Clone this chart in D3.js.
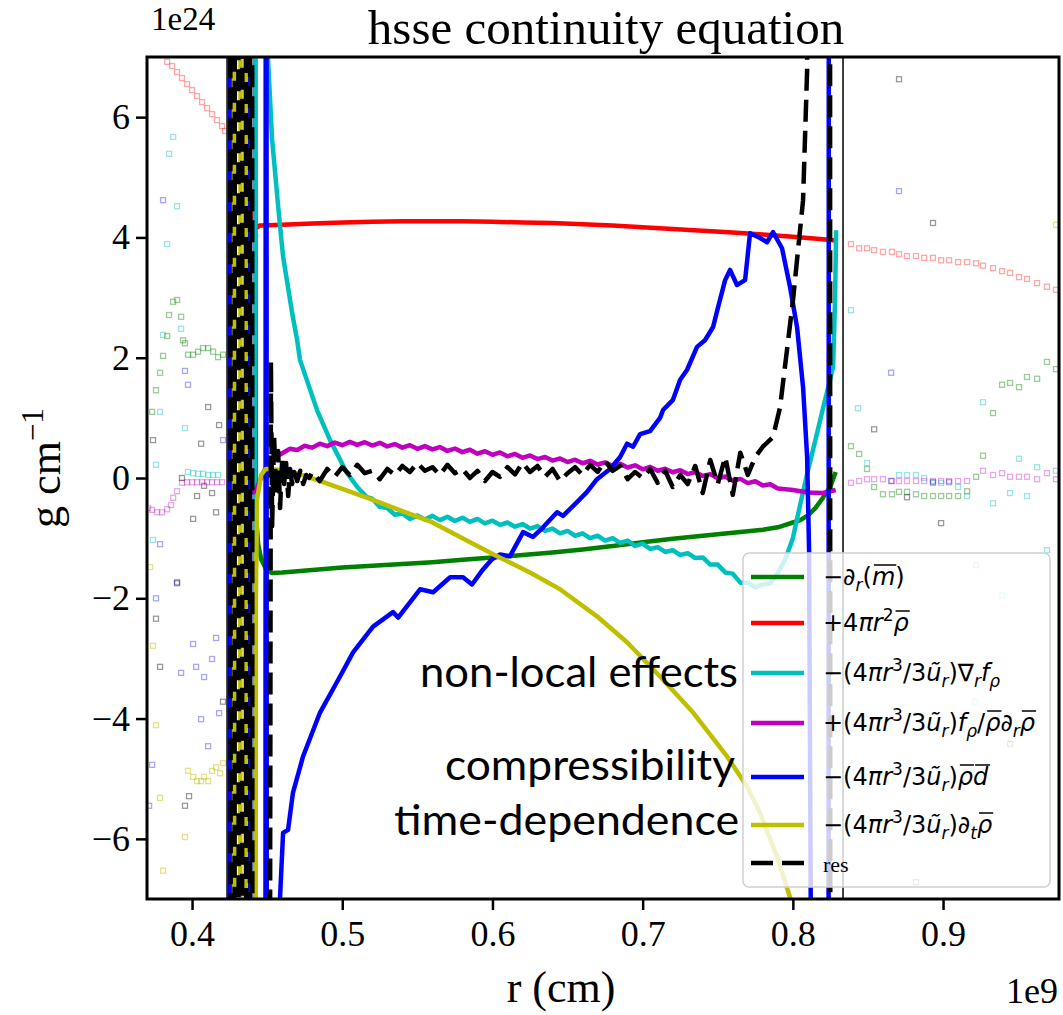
<!DOCTYPE html>
<html>
<head>
<meta charset="utf-8">
<script src="https://cdn.jsdelivr.net/npm/d3@7"></script>
<style>
  body { margin: 0; background: #fff; }
</style>
</head>
<body>
<svg id="chart" width="1063" height="1015"></svg>
<script>
// ---- data (r in units of 1e9 cm, values in units of 1e24 g/cm) ----
var xTicks = [0.4, 0.5, 0.6, 0.7, 0.8, 0.9];
var yTicks = [-6, -4, -2, 0, 2, 4, 6];
var convBounds = [0.4233, 0.8334];

var greenLine = [[0.4400,40],[0.4425,-0.6],[0.4440,-1.1],[0.4460,-1.35],[0.4490,-1.5],[0.4530,-1.58],[0.46,-1.57],[0.48,-1.53],[0.50,-1.49],[0.52,-1.46],[0.54,-1.43],[0.56,-1.40],[0.58,-1.36],[0.60,-1.32],[0.62,-1.28],[0.64,-1.24],[0.66,-1.19],[0.68,-1.13],[0.70,-1.07],[0.72,-1.01],[0.74,-0.96],[0.76,-0.91],[0.78,-0.86],[0.79,-0.82],[0.80,-0.74],[0.805,-0.70],[0.81,-0.62],[0.815,-0.50],[0.82,-0.33],[0.825,-0.14],[0.8285,0.1]];

var redLine = [[0.4405,4.45],[0.4425,4.15],[0.445,4.2],[0.46,4.21],[0.48,4.23],[0.50,4.25],[0.52,4.26],[0.54,4.27],[0.56,4.27],[0.58,4.27],[0.60,4.26],[0.62,4.25],[0.64,4.24],[0.66,4.22],[0.68,4.2],[0.70,4.17],[0.72,4.14],[0.74,4.11],[0.76,4.08],[0.78,4.05],[0.80,4.01],[0.82,3.97],[0.8285,3.95]];

var cyanLine = [[0.4410,-40],[0.4430,40],[0.4500,40],[0.4506,6.95],[0.4533,5.63],[0.4573,4.52],[0.4606,3.68],[0.4666,2.75],[0.4699,2.3],[0.4719,1.96],[0.4832,1.13],[0.4919,0.63],[0.5032,0.08],[0.5100,-0.15],[0.5165,-0.32],
  [0.52,-0.345],[0.525,-0.48],[0.53,-0.50],[0.535,-0.61],[0.54,-0.59],[0.545,-0.68],[0.55,-0.625],[0.555,-0.69],[0.56,-0.63],[0.565,-0.70],[0.57,-0.645],[0.575,-0.715],[0.58,-0.66],[0.585,-0.73],[0.59,-0.68],[0.595,-0.755],[0.60,-0.71],[0.605,-0.78],[0.61,-0.74],[0.615,-0.81],[0.62,-0.765],[0.625,-0.84],[0.63,-0.80],[0.635,-0.88],[0.64,-0.84],[0.645,-0.92],[0.65,-0.88],[0.655,-0.96],[0.66,-0.92],[0.665,-1.00],[0.67,-0.96],[0.675,-1.04],[0.68,-1.00],[0.685,-1.08],[0.69,-1.04],[0.695,-1.13],[0.70,-1.09],[0.705,-1.18],[0.71,-1.15],[0.715,-1.23],[0.72,-1.20],[0.725,-1.28],[0.73,-1.25],[0.735,-1.33],[0.74,-1.32],[0.745,-1.44],[0.75,-1.44],[0.755,-1.57],[0.76,-1.59],[0.765,-1.74],[0.77,-1.74],[0.775,-1.82],[0.78,-1.77],
  [0.785,-1.75],[0.79,-1.58],[0.795,-1.35],[0.80,-1.0],[0.805,-0.43],[0.81,0.12],[0.815,0.63],[0.82,1.15],[0.825,1.66],[0.8268,1.85],[0.8281,2.96],[0.8288,4.12]];

var magentaLine = [[0.4390,-0.25],[0.4419,-0.23],[0.4450,-0.05],[0.4480,0.12],[0.4519,0.25],[0.4560,0.35],[0.4606,0.42],
  [0.465,0.485],[0.47,0.465],[0.475,0.535],[0.48,0.505],[0.485,0.57],[0.49,0.53],[0.495,0.59],[0.50,0.545],[0.505,0.60],[0.51,0.55],[0.515,0.595],[0.52,0.54],[0.525,0.585],[0.53,0.525],[0.535,0.565],[0.54,0.505],[0.545,0.545],[0.55,0.485],[0.555,0.53],[0.56,0.475],[0.565,0.515],[0.57,0.45],[0.575,0.49],[0.58,0.43],[0.585,0.47],[0.59,0.405],[0.595,0.445],[0.60,0.385],[0.605,0.425],[0.61,0.36],[0.615,0.40],[0.62,0.335],[0.625,0.375],[0.63,0.315],[0.635,0.35],[0.64,0.29],[0.645,0.325],[0.65,0.265],[0.655,0.305],[0.66,0.245],[0.665,0.285],[0.67,0.225],[0.675,0.26],[0.68,0.20],[0.685,0.235],[0.69,0.175],[0.695,0.21],[0.70,0.145],[0.705,0.185],[0.71,0.12],[0.715,0.155],[0.72,0.095],[0.725,0.13],[0.73,0.065],[0.735,0.10],[0.74,0.035],[0.745,0.065],[0.75,-0.005],[0.755,0.025],[0.76,-0.045],[0.765,-0.015],[0.77,-0.085],[0.775,-0.055],[0.78,-0.125],[0.785,-0.105],[0.79,-0.175],
  [0.80,-0.20],[0.81,-0.24],[0.82,-0.25],[0.8285,-0.2]];

var blueLine = [[0.4245,-40],[0.4258,40],[0.4380,40],[0.4392,-40],[0.4486,-40],[0.4493,40],[0.4500,-40],
  [0.4586,-6.97],[0.4606,-5.9],[0.4639,-5.85],[0.4672,-5.23],[0.4739,-4.63],[0.4852,-3.9],[0.4985,-3.3],[0.5072,-2.9],[0.5205,-2.47],[0.5338,-2.23],[0.5372,-2.32],[0.5518,-1.85],[0.5605,-1.9],[0.5718,-1.65],[0.5804,-1.65],[0.5864,-1.77],[0.5937,-1.52],[0.5997,-1.35],[0.6051,-1.27],[0.6117,-1.3],[0.6204,-0.9],[0.6270,-0.98],[0.6337,-0.82],[0.6430,-0.57],[0.6470,-0.63],[0.6563,-0.4],[0.6630,-0.23],[0.6696,-0.02],[0.6783,0.15],[0.6850,0.35],[0.6896,0.57],[0.6936,0.52],[0.6983,0.73],[0.7049,0.78],[0.7116,1.0],[0.7136,1.13],[0.7202,1.3],[0.7249,1.63],[0.7296,1.80],[0.7362,2.18],[0.7415,2.29],[0.7469,2.51],[0.7502,2.84],[0.7549,3.29],[0.7582,3.46],[0.7628,3.21],[0.7682,3.29],[0.7715,4.07],[0.7782,3.99],[0.7828,3.92],[0.7868,4.09],[0.7928,3.82],[0.7981,3.18],[0.8028,2.51],[0.8068,1.51],[0.8095,0.35],[0.8108,-1.2],[0.8120,-7.5],[0.8140,-40],[0.8235,-40],[0.8242,40]];

var yellowLine = [[0.4275,40],[0.4285,-40],[0.4318,-40],[0.4326,40],[0.4352,40],[0.4360,-40],[0.4412,-40],[0.4425,-2.0],[0.4433,-0.35],[0.4460,0.05],[0.4490,0.15],[0.4530,0.15],[0.4606,0.12],[0.4719,0.06],[0.4852,-0.05],[0.50,-0.18],[0.52,-0.36],[0.54,-0.55],[0.5585,-0.72],[0.5851,-1.07],[0.6031,-1.3],[0.6250,-1.57],[0.6450,-1.85],[0.6696,-2.3],[0.6896,-2.73],[0.7116,-3.3],[0.7336,-3.9],[0.7562,-4.63],[0.7695,-5.13],[0.7782,-5.57],[0.7895,-6.3],[0.7981,-6.97],[0.8100,-8.0]];

var resLine = [[0.4250,40],[0.4262,-40],[0.4280,-40],[0.4288,40],[0.4305,40],[0.4313,-40],[0.4330,-40],[0.4338,40],[0.4356,40],[0.4364,-40],[0.4382,-40],[0.4390,40],[0.4398,40],[0.4404,-40],
  [0.4500,-40],[0.4525,1.93],[0.4533,-0.8],[0.4546,0.7],[0.4560,-0.3],[0.4573,0.45],[0.4586,-0.5],[0.4600,0.3],[0.4613,-0.1],[0.4626,0.25],[0.4640,-0.3],[0.4653,0.15],[0.4666,-0.1],[0.4680,0.1],[0.4700,-0.05],[0.4720,0.12],[0.4740,-0.1],[0.4760,0.05],[0.4780,0.0],
  [0.480,0.10],[0.485,-0.05],[0.490,0.15],[0.495,0.02],[0.500,0.18],[0.505,0.05],[0.510,0.22],[0.515,0.08],[0.520,0.12],[0.525,-0.02],[0.530,0.15],[0.535,0.05],[0.540,0.20],[0.545,0.10],[0.550,0.25],[0.555,0.12],[0.560,0.18],[0.565,0.05],[0.570,0.22],[0.575,0.08],[0.580,0.15],[0.585,0.00],[0.590,0.12],[0.595,-0.05],[0.600,0.10],[0.605,0.02],[0.610,0.18],[0.615,0.06],[0.620,0.25],[0.625,0.10],[0.630,0.20],[0.635,0.02],[0.640,0.15],[0.645,-0.05],[0.650,0.08],[0.655,0.18],[0.660,0.05],[0.665,0.22],[0.670,0.10],[0.675,0.28],[0.680,0.12],[0.685,0.20],[0.690,-0.02],[0.695,0.10],[0.700,0.00],[0.705,0.15],[0.710,-0.08],[0.715,0.12],[0.720,-0.15],[0.725,0.05],[0.730,-0.10],[0.735,0.20],[0.740,-0.25],[0.745,0.30],[0.750,-0.10],[0.755,0.35],[0.760,-0.28],[0.765,0.42],
  [0.770,0.05],[0.775,0.35],[0.780,0.52],[0.7868,0.68],[0.7915,1.18],[0.7961,2.13],[0.8001,2.96],[0.8068,4.62],[0.8095,6.78],[0.8115,40],[0.8245,40],[0.8252,-40]];

// faint markers outside the convective zone
var redPts = [[0.3834,6.92],[0.3867,6.85],[0.3900,6.75],[0.3933,6.65],[0.3967,6.55],[0.4000,6.45],[0.4033,6.35],[0.4067,6.25],[0.4100,6.15],[0.4133,6.05],[0.4166,5.95],[0.4200,5.85],[0.4220,5.77],
  [0.8387,3.89],[0.8441,3.82],[0.8494,3.82],[0.8541,3.79],[0.8600,3.76],[0.8660,3.76],[0.8707,3.72],[0.8760,3.69],[0.8820,3.69],[0.8874,3.66],[0.8933,3.66],[0.8987,3.62],[0.9040,3.62],[0.9100,3.59],[0.9160,3.59],[0.9220,3.57],[0.9266,3.53],[0.9333,3.49],[0.9393,3.44],[0.9446,3.41],[0.9506,3.34],[0.9559,3.31],[0.9626,3.24],[0.9692,3.18],[0.9752,3.13]];
var greenPts = [[0.3874,2.93],[0.3900,2.96],[0.3847,2.71],[0.3927,2.68],[0.3834,2.36],[0.3940,2.29],[0.3953,2.24],[0.3807,2.03],[0.3973,2.05],[0.4007,2.05],[0.4040,2.10],[0.4073,2.16],[0.4107,2.16],[0.4140,2.10],[0.4173,2.01],[0.4206,2.05],[0.3787,1.75],[0.3760,1.46],[0.3734,1.10],
  [0.8387,0.53],[0.8441,0.40],[0.8494,0.15],[0.8541,-0.15],[0.8600,-0.27],[0.8660,-0.27],[0.8707,-0.23],[0.8760,-0.23],[0.8820,-0.27],[0.8874,-0.30],[0.8933,-0.30],[0.8987,-0.30],[0.9040,-0.30],[0.9100,-0.30],[0.9160,-0.22],[0.9220,0.02],[0.9266,0.37],[0.9333,1.08],[0.9393,1.55],[0.9446,1.58],[0.9506,1.51],[0.9559,1.68],[0.9626,1.65],[0.9692,1.93],[0.9752,1.81]];
var cyanPts = [[0.3874,5.67],[0.3847,5.39],[0.3900,4.52],[0.3834,3.89],[0.3927,2.48],[0.3807,2.38],[0.3787,1.10],[0.3953,0.83],[0.3760,0.22],[0.3973,0.10],[0.4007,0.08],[0.4040,0.07],[0.4073,0.07],[0.4107,0.05],[0.4140,0.05],[0.4173,0.05],[0.3740,-1.03],
  [0.8387,2.79],[0.8434,1.16],[0.8494,0.25],[0.8707,0.05],[0.8760,0.05],[0.8820,0.05],[0.8874,0.0],[0.8933,-0.08],[0.8987,-0.08],[0.9100,-0.15],[0.9160,-0.30],[0.9266,1.26],[0.9333,-0.42],[0.9446,-0.25],[0.9506,0.32],[0.9559,-0.30],[0.9626,0.18],[0.9752,0.12],[0.9692,-1.20],[0.9393,-1.95],[0.9213,-3.72]];
var magentaPts = [[0.3707,-0.50],[0.3734,-0.53],[0.3767,-0.57],[0.3800,-0.57],[0.3834,-0.52],[0.3860,-0.45],[0.3874,-0.33],[0.3900,-0.22],[0.3933,-0.08],[0.3967,-0.07],[0.4000,-0.07],[0.4033,-0.07],[0.4067,-0.07],[0.4100,-0.07],[0.4133,-0.07],[0.4166,-0.07],[0.4200,-0.07],
  [0.8387,-0.08],[0.8441,-0.05],[0.8494,-0.02],[0.8541,-0.02],[0.8600,-0.02],[0.8660,-0.05],[0.8707,-0.05],[0.8760,-0.05],[0.8820,-0.05],[0.8874,-0.05],[0.8933,-0.05],[0.8987,-0.05],[0.9040,-0.05],[0.9100,-0.05],[0.9160,-0.05],[0.9266,0.12],[0.9333,0.05],[0.9393,0.08],[0.9446,0.02],[0.9506,0.02],[0.9559,0.02],[0.9626,-0.02],[0.9692,0.08],[0.9752,-0.02],[0.9220,-1.45]];
var bluePts = [[0.3807,4.62],[0.3953,1.78],[0.3973,1.55],[0.4206,0.63],[0.3787,-1.10],[0.3900,-1.73],[0.3760,-2.0],[0.4007,-2.76],[0.4160,-2.66],[0.4133,-3.01],[0.4027,-3.14],[0.3927,-3.24],[0.4080,-3.31],[0.4180,-3.91],[0.4060,-4.01],[0.4107,-4.46],[0.3734,-4.77],[0.3714,-5.45],
  [0.8707,4.77],[0.8654,1.75],[0.8654,-0.05],[0.8933,-0.07],[0.9040,-0.07]];
var grayPts = [[0.4107,1.18],[0.4180,0.88],[0.3740,0.63],[0.4060,0.57],[0.3933,0.0],[0.4080,-0.13],[0.4133,-0.25],[0.4033,-0.30],[0.4160,-0.57],[0.4007,-0.68],[0.3900,-1.75],[0.3760,-2.34],[0.3787,-3.14],[0.4206,-3.72],[0.3980,-5.29],[0.3953,-5.45],
  [0.8707,6.63],[0.8933,4.24],[0.8541,0.81],[0.8760,-0.32],[0.8987,-0.75],[0.9446,-4.42],[0.8820,-6.72]];
var yellowPts = [[0.3720,-1.48],[0.3740,-2.79],[0.3760,-4.11],[0.3973,-4.87],[0.4007,-4.97],[0.4033,-5.04],[0.4060,-5.04],[0.4080,-4.97],[0.4107,-5.04],[0.4133,-4.87],[0.4160,-4.81],[0.4186,-4.91],[0.4206,-4.74],[0.3787,-5.32],[0.3953,-5.97],[0.3807,-6.53],
  [0.9752,4.21]];

// legend labels: [text, style flags]
var legendLabels = [
  [["−",""],["∂","it"],["r","it sub"],["(",""],["m","it over"],[")",""]],
  [["+4",""],["π","it"],["r","it"],["2","sup"],["ρ","it over"]],
  [["−(4",""],["π","it"],["r","it"],["3","sup"],["/3",""],["ũ","it"],["r","it sub"],[")∇",""],["r","it sub"],["f","it"],["ρ","it sub"]],
  [["+(4",""],["π","it"],["r","it"],["3","sup"],["/3",""],["ũ","it"],["r","it sub"],[")",""],["f","it"],["ρ","it sub"],["/",""],["ρ","it over"],["∂","it"],["r","it sub"],["ρ","it over"]],
  [["−(4",""],["π","it"],["r","it"],["3","sup"],["/3",""],["ũ","it"],["r","it sub"],[")",""],["ρ","it over"],["d","it over"]],
  [["−(4",""],["π","it"],["r","it"],["3","sup"],["/3",""],["ũ","it"],["r","it sub"],[")",""],["∂","it"],["t","it sub"],["ρ","it over"]],
  [["res","serif"]]
];
var annotations = ["non-local effects", "compressibility", "time-dependence"];

// ---- drawing ----
var svg = d3.select("#chart");
var pLeft = 147, pTop = 57, pRight = 1059, pBottom = 899;
var serif = "'Liberation Serif', 'Times New Roman', serif";

var x = d3.scaleLinear().domain([0.370, 0.9772]).range([pLeft, pRight]);
var y = d3.scaleLinear().domain([-7, 7]).range([pBottom, pTop]);

svg.append("rect").attr("width", 1063).attr("height", 1015).attr("fill", "#fff");

svg.append("defs").append("clipPath").attr("id", "plotclip")
  .append("rect").attr("x", pLeft).attr("y", pTop)
  .attr("width", pRight - pLeft).attr("height", pBottom - pTop);

var plot = svg.append("g").attr("clip-path", "url(#plotclip)");

// markers
var markerSets = [
  {pts: redPts, color: "#ff0000", op: 0.35},
  {pts: greenPts, color: "#008000", op: 0.4},
  {pts: cyanPts, color: "#00bfbf", op: 0.4},
  {pts: magentaPts, color: "#bf00bf", op: 0.35},
  {pts: bluePts, color: "#0000ff", op: 0.35},
  {pts: yellowPts, color: "#bfbf00", op: 0.45},
  {pts: grayPts, color: "#000000", op: 0.4}
];
markerSets.forEach(function(m) {
  plot.append("g").selectAll("rect").data(m.pts).enter().append("rect")
    .attr("x", function(d) { return x(d[0]) - 2.5; })
    .attr("y", function(d) { return y(d[1]) - 2.5; })
    .attr("width", 5).attr("height", 5)
    .attr("fill", "none").attr("stroke", m.color)
    .attr("stroke-opacity", m.op).attr("stroke-width", 1.3);
});

// boundaries
plot.selectAll("line.bound").data(convBounds).enter().append("line")
  .attr("class", "bound")
  .attr("x1", function(d) { return x(d); }).attr("x2", function(d) { return x(d); })
  .attr("y1", pTop).attr("y2", pBottom)
  .attr("stroke", "#000").attr("stroke-width", 1.5);

var line = d3.line().x(function(d) { return x(d[0]); }).y(function(d) { return y(d[1]); });

var lineSets = [
  {data: greenLine, color: "#008000"},
  {data: redLine, color: "#ff0000"},
  {data: cyanLine, color: "#00bfbf"},
  {data: magentaLine, color: "#bf00bf"},
  {data: blueLine, color: "#0000ff"},
  {data: yellowLine, color: "#bfbf00"},
  {data: resLine, color: "#000000", dash: "22,9"}
];
lineSets.forEach(function(s) {
  var p = plot.append("path").datum(s.data).attr("d", line)
    .attr("fill", "none").attr("stroke", s.color)
    .attr("stroke-width", 4.5).attr("stroke-linejoin", "round");
  if (s.dash) p.attr("stroke-dasharray", s.dash);
});

// axes
var xAxis = svg.append("g").attr("transform", "translate(0," + pBottom + ")")
  .call(d3.axisBottom(x).tickValues(xTicks).tickSize(11).tickPadding(10).tickFormat(d3.format(".1f")));
var yAxis = svg.append("g").attr("transform", "translate(" + pLeft + ",0)")
  .call(d3.axisLeft(y).tickValues(yTicks).tickSize(11).tickPadding(6).tickFormat(d3.format("d")));
[xAxis, yAxis].forEach(function(a) {
  a.select(".domain").remove();
  a.selectAll(".tick line").attr("stroke", "#000").attr("stroke-width", 2.5);
  a.selectAll(".tick text").attr("fill", "#000").style("font-family", serif).style("font-size", "36px");
});

svg.append("rect").attr("x", pLeft).attr("y", pTop)
  .attr("width", pRight - pLeft).attr("height", pBottom - pTop)
  .attr("fill", "none").attr("stroke", "#000").attr("stroke-width", 3);

// titles and labels
svg.append("text").attr("x", 606).attr("y", 44).attr("text-anchor", "middle")
  .style("font-family", serif).style("font-size", "49px").text("hsse continuity equation");
svg.append("text").attr("x", 151).attr("y", 30)
  .style("font-family", serif).style("font-size", "33px").text("1e24");
svg.append("text").attr("x", 1006).attr("y", 1003)
  .style("font-family", serif).style("font-size", "36px").text("1e9");
svg.append("text").attr("x", 561).attr("y", 1002).attr("text-anchor", "middle")
  .style("font-family", serif).style("font-size", "44px").text("r (cm)");
var yl = svg.append("text").attr("transform", "translate(60,468) rotate(-90)")
  .attr("text-anchor", "middle").style("font-family", serif).style("font-size", "44px");
yl.append("tspan").text("g cm");
yl.append("tspan").attr("dy", -17).style("font-size", "31px").text("−1");

// legend
var lg = svg.append("g");
lg.append("rect").attr("x", 743).attr("y", 553).attr("width", 307).attr("height", 334)
  .attr("rx", 6).attr("fill", "#fff").attr("fill-opacity", 0.8)
  .attr("stroke", "#d0d0d0").attr("stroke-width", 1.5);
var rowY = [577, 623, 673, 723, 777, 825, 863];
lineSets.forEach(function(s, i) {
  var l = lg.append("line").attr("x1", 751).attr("x2", 804)
    .attr("y1", rowY[i]).attr("y2", rowY[i])
    .attr("stroke", s.color).attr("stroke-width", 4.5);
  if (s.dash) l.attr("stroke-dasharray", "22,9");
});

function drawLabel(segs, x0, yBase) {
  var t = lg.append("text").attr("x", x0).attr("y", yBase)
    .style("font-family", "'DejaVu Sans', sans-serif").style("font-size", "24px");
  var shift = 0, overs = [];
  segs.forEach(function(seg) {
    var flags = seg[1].split(" ");
    var target = flags.indexOf("sub") >= 0 ? 6 : flags.indexOf("sup") >= 0 ? -10 : 0;
    var ts = t.append("tspan").attr("dy", target - shift).text(seg[0]);
    shift = target;
    if (target !== 0) ts.style("font-size", "17px");
    if (flags.indexOf("it") >= 0) ts.style("font-style", "italic");
    if (flags.indexOf("serif") >= 0) ts.style("font-family", serif).style("font-size", "22px");
    if (flags.indexOf("over") >= 0) overs.push(ts);
  });
  overs.forEach(function(ts) {
    var b = ts.node().getBBox();
    lg.append("line").attr("x1", b.x + 2).attr("x2", b.x + b.width + 1)
      .attr("y1", yBase - 20).attr("y2", yBase - 20)
      .attr("stroke", "#000").attr("stroke-width", 1.5);
  });
}
legendLabels.forEach(function(segs, i) {
  drawLabel(segs, 823, rowY[i] + (i === 6 ? 9 : 8));
});

// annotations
var annRight = [738, 735, 739];
var annBase = [687, 780, 835];
var annWidth = [318, 290, 345];
annotations.forEach(function(a, i) {
  svg.append("text").attr("x", annRight[i] - annWidth[i]).attr("y", annBase[i])
    .attr("textLength", annWidth[i]).attr("lengthAdjust", "spacingAndGlyphs")
    .style("font-family", "Lato, 'Open Sans', sans-serif").style("font-size", "42px")
    .text(a);
});
</script>
</body>
</html>
